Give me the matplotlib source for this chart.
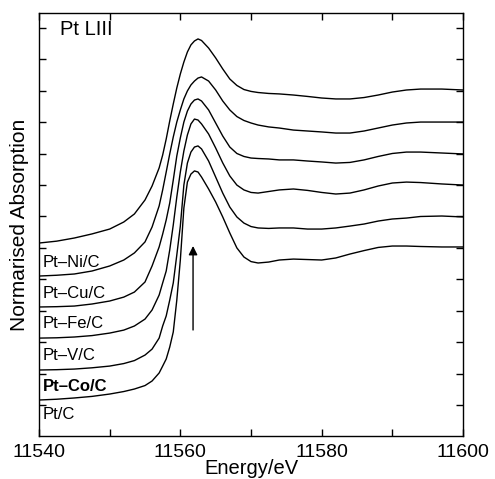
import numpy as np
import matplotlib
matplotlib.use("Agg")
import matplotlib.pyplot as plt

plt.rcParams['font.family'] = ['Liberation Sans', 'DejaVu Sans']

# energy grid (eV)
energy = [11540, 11542.5, 11545, 11547.5, 11550, 11552, 11553.5, 11555, 11556,
          11557, 11557.5, 11558, 11558.5, 11559, 11559.5, 11560, 11560.5, 11561,
          11561.5, 11562, 11562.5, 11563, 11564, 11565, 11566, 11567, 11568,
          11569, 11570, 11571, 11572.5, 11574, 11576, 11578, 11580, 11582,
          11584, 11586, 11588, 11590, 11592, 11594, 11597, 11600]

# normalised absorption, one list per sample (bottom to top)
pt_c = [0.032, 0.037, 0.045, 0.055, 0.070, 0.086, 0.102, 0.124, 0.153,
        0.204, 0.248, 0.293, 0.369, 0.465, 0.668, 0.923, 1.254, 1.419,
        1.470, 1.490, 1.483, 1.451, 1.375, 1.292, 1.197, 1.095, 1.000,
        0.942, 0.913, 0.904, 0.910, 0.923, 0.929, 0.926, 0.923, 0.936,
        0.961, 0.983, 1.003, 1.012, 1.012, 1.009, 1.006, 1.006]
pt_co = [0.023, 0.025, 0.029, 0.037, 0.048, 0.064, 0.083, 0.118, 0.156,
         0.226, 0.303, 0.367, 0.468, 0.577, 0.755, 0.939, 1.200, 1.340,
         1.410, 1.442, 1.449, 1.430, 1.353, 1.251, 1.149, 1.060, 0.997,
         0.958, 0.936, 0.927, 0.924, 0.927, 0.927, 0.920, 0.920, 0.927,
         0.939, 0.952, 0.971, 0.984, 0.990, 1.000, 1.003, 0.997]
pt_v = [0.026, 0.028, 0.033, 0.042, 0.058, 0.077, 0.103, 0.147, 0.205,
        0.300, 0.377, 0.453, 0.587, 0.746, 0.924, 1.083, 1.217, 1.319,
        1.389, 1.420, 1.414, 1.389, 1.325, 1.236, 1.141, 1.058, 1.000,
        0.969, 0.953, 0.949, 0.959, 0.969, 0.975, 0.966, 0.953, 0.943,
        0.949, 0.969, 0.994, 1.013, 1.019, 1.016, 1.007, 1.000]
pt_fe = [0.024, 0.026, 0.030, 0.043, 0.062, 0.087, 0.119, 0.183, 0.285,
         0.406, 0.488, 0.578, 0.686, 0.832, 0.985, 1.100, 1.201, 1.271,
         1.316, 1.341, 1.348, 1.335, 1.278, 1.195, 1.112, 1.042, 1.001,
         0.982, 0.972, 0.969, 0.966, 0.960, 0.960, 0.953, 0.947, 0.940,
         0.944, 0.960, 0.982, 1.001, 1.010, 1.010, 1.004, 0.998]
pt_cu = [0.021, 0.026, 0.034, 0.053, 0.085, 0.123, 0.168, 0.238, 0.333,
         0.467, 0.569, 0.683, 0.798, 0.906, 1.001, 1.078, 1.148, 1.199,
         1.237, 1.262, 1.281, 1.288, 1.262, 1.205, 1.135, 1.078, 1.036,
         1.011, 0.995, 0.982, 0.970, 0.963, 0.950, 0.944, 0.938, 0.931,
         0.931, 0.944, 0.963, 0.982, 0.995, 1.001, 1.001, 1.001]
pt_ni = [0.031, 0.043, 0.063, 0.089, 0.120, 0.165, 0.216, 0.305, 0.394,
         0.509, 0.591, 0.693, 0.808, 0.916, 1.018, 1.107, 1.183, 1.247,
         1.292, 1.317, 1.330, 1.320, 1.272, 1.209, 1.139, 1.075, 1.034,
         1.008, 0.996, 0.989, 0.983, 0.980, 0.973, 0.964, 0.954, 0.948,
         0.948, 0.957, 0.973, 0.992, 1.005, 1.011, 1.011, 1.005]

spectra = [pt_c, pt_co, pt_v, pt_fe, pt_cu, pt_ni]
labels = ['Pt/C', 'Pt\u2013Co/C', 'Pt\u2013V/C', 'Pt\u2013Fe/C', 'Pt\u2013Cu/C', 'Pt\u2013Ni/C']
offsets = [0.0, 0.2, 0.4, 0.6, 0.8, 1.0]
label_y = [-0.057, 0.121, 0.318, 0.516, 0.713, 0.910]

fig = plt.figure(figsize=(4.95, 4.79), dpi=100)
ax = fig.add_axes([39 / 495, 43 / 479, 424 / 495, 423 / 479])

for spec, off in zip(spectra, offsets):
    ax.plot(energy, np.array(spec) + off, color='k', lw=1.0)

for lab, ly in zip(labels, label_y):
    weight = 'bold' if 'Co' in lab else 'normal'
    ax.text(11540.5, ly, lab, fontsize=12, va='center', ha='left', fontweight=weight)

ax.text(11543, 2.387, 'Pt LIII', fontsize=14.5, va='center', ha='left')

ax.annotate('', xy=(11561.8, 1.03), xytext=(11561.8, 0.46),
            arrowprops=dict(arrowstyle='-|>', color='k', lw=1.0,
                            mutation_scale=13))

ax.set_xlim(11540, 11600)
ax.set_ylim(-0.197, 2.495)
ax.set_xticks([11540, 11560, 11580, 11600])
ax.set_xticks([11550, 11570, 11590], minor=True)
ax.set_yticks(np.arange(0, 2.41, 0.2))
ax.set_yticklabels([])
ax.tick_params(which='both', direction='in', top=True, right=True, length=5, width=1)
ax.tick_params(axis='x', labelsize=14, pad=6)
for s in ax.spines.values():
    s.set_linewidth(1.0)

ax.set_ylabel('Normarised Absorption', fontsize=15, labelpad=4)
fig.text(251 / 495, 0.002, 'Energy/eV', fontsize=14.5, ha='center', va='bottom')

plt.savefig('out.png', dpi=100)
